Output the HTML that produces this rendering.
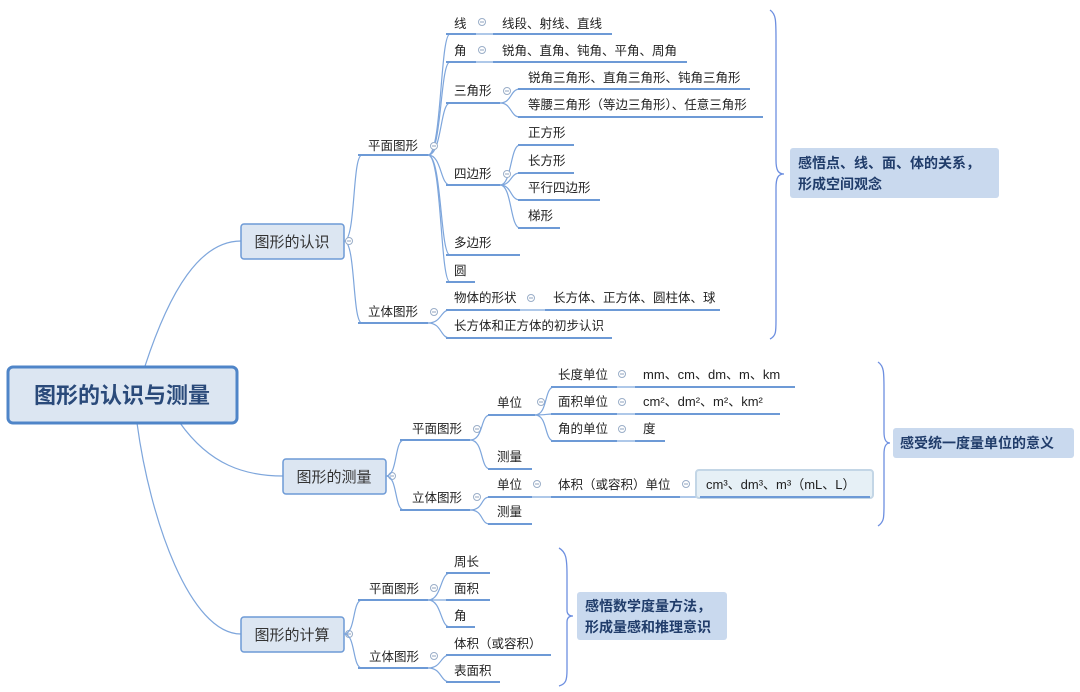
<!DOCTYPE html>
<html><head><meta charset="utf-8"><style>
html,body{margin:0;padding:0;background:#fff;}
svg{display:block;}
text{font-family:"Liberation Sans","Noto Sans CJK SC",sans-serif;font-size:12.5px;fill:#222;}
.u{stroke:#6d9ad6;stroke-width:2;fill:none;}
.c{stroke:#7ea6dc;stroke-width:1.2;fill:none;}
.o{fill:#fff;stroke:#9aaec8;stroke-width:1;}
.br{stroke:#6d8fe0;stroke-width:1.3;fill:none;}
.sum{font-size:14px;font-weight:bold;fill:#203c6a;}
</style></head><body>
<svg width="1080" height="692" viewBox="0 0 1080 692" xmlns="http://www.w3.org/2000/svg">
<defs>
<g id="m"><circle class="o" cx="0" cy="0" r="3.5"/><line x1="-2" y1="0" x2="2" y2="0" stroke="#8fa3bf" stroke-width="1"/></g>
</defs>
<path class="c" d="M145 366 C170 290 200 241 241 241"/>
<path class="c" d="M180 423 C210 465 245 476 283 476"/>
<path class="c" d="M137 423 C150 520 190 634 241 634"/>

<rect x="8" y="367" width="229" height="56" rx="5" fill="#dce6f2" stroke="#4f85c8" stroke-width="3"/>
<text x="122" y="403" text-anchor="middle" style="font-size:22px;font-weight:bold;fill:#2a4a7a">图形的认识与测量</text>

<rect x="241" y="224" width="103" height="35" rx="3" fill="#dce6f2" stroke="#6d9ad6" stroke-width="1.5"/>
<text x="292" y="247" text-anchor="middle" style="font-size:15px;fill:#333">图形的认识</text>
<rect x="283" y="459" width="103" height="35" rx="3" fill="#dce6f2" stroke="#6d9ad6" stroke-width="1.5"/>
<text x="334" y="482" text-anchor="middle" style="font-size:15px;fill:#333">图形的测量</text>
<rect x="241" y="617" width="103" height="35" rx="3" fill="#dce6f2" stroke="#6d9ad6" stroke-width="1.5"/>
<text x="292" y="640" text-anchor="middle" style="font-size:15px;fill:#333">图形的计算</text>

<!-- group 1 -->
<path class="c" d="M344 241 C356 241 352 155 362 155"/>
<path class="c" d="M344 241 C356 241 352 323 362 323"/>
<line class="u" x1="358" y1="155" x2="428" y2="155"/><text x="368" y="150">平面图形</text>
<line class="u" x1="358" y1="323" x2="428" y2="323"/><text x="368" y="316">立体图形</text>

<g class="c">
<path d="M428 155 C442 155 440 34 450 34"/>
<path d="M428 155 C442 155 440 62 450 62"/>
<path d="M428 155 C442 155 440 103 450 103"/>
<path d="M428 155 C442 155 440 185 450 185"/>
<path d="M428 155 C442 155 440 255 450 255"/>
<path d="M428 155 C442 155 440 282 450 282"/>
<path d="M428 323 C442 323 440 310 450 310"/>
<path d="M428 323 C442 323 440 338 450 338"/>
<path d="M500 103 C512 103 510 89 520 89"/>
<path d="M500 103 C512 103 510 117 520 117"/>
<path d="M500 185 C512 185 510 145 520 145"/>
<path d="M500 185 C512 185 510 173 520 173"/>
<path d="M500 185 C512 185 510 200 520 200"/>
<path d="M500 185 C512 185 510 228 520 228"/>
<line x1="476" y1="34" x2="493" y2="34"/>
<line x1="476" y1="62" x2="493" y2="62"/>
<line x1="520" y1="310" x2="545" y2="310"/>
</g>
<g class="u">
<line x1="446" y1="34" x2="476" y2="34"/><line x1="493" y1="34" x2="612" y2="34"/>
<line x1="446" y1="62" x2="476" y2="62"/><line x1="493" y1="62" x2="687" y2="62"/>
<line x1="446" y1="103" x2="500" y2="103"/>
<line x1="518" y1="89" x2="750" y2="89"/><line x1="518" y1="117" x2="763" y2="117"/>
<line x1="446" y1="185" x2="500" y2="185"/>
<line x1="518" y1="145" x2="574" y2="145"/><line x1="518" y1="173" x2="574" y2="173"/>
<line x1="518" y1="200" x2="600" y2="200"/><line x1="518" y1="228" x2="560" y2="228"/>
<line x1="446" y1="255" x2="520" y2="255"/>
<line x1="446" y1="282" x2="475" y2="282"/>
<line x1="446" y1="310" x2="520" y2="310"/><line x1="545" y1="310" x2="720" y2="310"/>
<line x1="446" y1="338" x2="612" y2="338"/>
</g>
<text x="454" y="28">线</text><text x="502" y="28">线段、射线、直线</text>
<text x="454" y="55">角</text><text x="502" y="55">锐角、直角、钝角、平角、周角</text>
<text x="454" y="95">三角形</text>
<text x="528" y="82">锐角三角形、直角三角形、钝角三角形</text>
<text x="528" y="109">等腰三角形（等边三角形）、任意三角形</text>
<text x="454" y="178">四边形</text>
<text x="528" y="137">正方形</text><text x="528" y="165">长方形</text>
<text x="528" y="192">平行四边形</text><text x="528" y="220">梯形</text>
<text x="454" y="247">多边形</text>
<text x="454" y="275">圆</text>
<text x="454" y="302">物体的形状</text><text x="553" y="302">长方体、正方体、圆柱体、球</text>
<text x="454" y="330">长方体和正方体的初步认识</text>

<use href="#m" x="349" y="241"/><use href="#m" x="434" y="146"/>
<use href="#m" x="434" y="312"/><use href="#m" x="482" y="22"/>
<use href="#m" x="482" y="50"/><use href="#m" x="507" y="91"/>
<use href="#m" x="507" y="174"/><use href="#m" x="531" y="298"/>
<use href="#m" x="392" y="476"/><use href="#m" x="477" y="429"/>
<use href="#m" x="477" y="497"/><use href="#m" x="541" y="402"/>
<use href="#m" x="622" y="374"/><use href="#m" x="622" y="402"/>
<use href="#m" x="622" y="429"/><use href="#m" x="537" y="484"/>
<use href="#m" x="686" y="484"/>
<use href="#m" x="349" y="634"/><use href="#m" x="434" y="588"/>
<use href="#m" x="434" y="656"/>

<path class="br" d="M770 10 C776 14 776 20 776 40 L776 160 C776 170 778 174 784 174 C778 174 776 178 776 188 L776 320 C776 332 776 336 770 339"/>
<rect x="790" y="148" width="209" height="50" rx="3" fill="#c9d9ee"/>
<text class="sum" x="798" y="168">感悟点、线、面、体的关系，</text>
<text class="sum" x="798" y="189">形成空间观念</text>

<!-- group 2 -->
<g class="c">
<path d="M386 476 C398 476 394 440 404 440"/>
<path d="M386 476 C398 476 394 510 404 510"/>
<path d="M470 440 C484 440 480 415 490 415"/>
<path d="M470 440 C484 440 480 469 490 469"/>
<path d="M470 510 C484 510 480 497 490 497"/>
<path d="M470 510 C484 510 480 524 490 524"/>
<path d="M535 415 C548 415 544 387 554 387"/>
<path d="M535 415 C548 415 544 414 554 414"/>
<path d="M535 415 C548 415 544 441 554 441"/>
<line x1="617" y1="387" x2="635" y2="387"/><line x1="617" y1="414" x2="635" y2="414"/>
<line x1="617" y1="441" x2="635" y2="441"/><line x1="532" y1="497" x2="551" y2="497"/>
<line x1="680" y1="497" x2="700" y2="497"/>
</g>
<g class="u">
<line x1="400" y1="440" x2="470" y2="440"/><line x1="400" y1="510" x2="470" y2="510"/>
<line x1="488" y1="415" x2="535" y2="415"/><line x1="488" y1="469" x2="532" y2="469"/>
<line x1="551" y1="387" x2="617" y2="387"/><line x1="635" y1="387" x2="795" y2="387"/>
<line x1="551" y1="414" x2="617" y2="414"/><line x1="635" y1="414" x2="780" y2="414"/>
<line x1="551" y1="441" x2="617" y2="441"/><line x1="635" y1="441" x2="665" y2="441"/>
<line x1="488" y1="497" x2="532" y2="497"/><line x1="551" y1="497" x2="680" y2="497"/>
<line x1="488" y1="524" x2="532" y2="524"/>
</g>
<text x="412" y="433">平面图形</text><text x="412" y="502">立体图形</text>
<text x="497" y="407">单位</text><text x="497" y="461">测量</text>
<text x="558" y="379">长度单位</text><text x="643" y="379" style="font-size:13px">mm、cm、dm、m、km</text>
<text x="558" y="406">面积单位</text><text x="643" y="406" style="font-size:13px">cm²、dm²、m²、km²</text>
<text x="558" y="433">角的单位</text><text x="643" y="433">度</text>
<text x="497" y="489">单位</text><text x="558" y="489">体积（或容积）单位</text>
<text x="497" y="516">测量</text>
<rect x="696" y="470" width="177" height="28" rx="3" fill="#e6f0f6" stroke="#c3d6e6" stroke-width="2"/>
<line class="u" x1="700" y1="497" x2="870" y2="497"/>
<text x="706" y="489" style="font-size:13px">cm³、dm³、m³（mL、L）</text>

<path class="br" d="M878 362 C884 366 884 372 884 390 L884 432 C884 440 886 443 890 443 C886 443 884 446 884 454 L884 505 C884 518 884 522 878 526"/>
<rect x="893" y="428" width="181" height="30" rx="3" fill="#c9d9ee"/>
<text class="sum" x="900" y="448">感受统一度量单位的意义</text>

<!-- group 3 -->
<g class="c">
<path d="M344 634 C356 634 352 600 362 600"/>
<path d="M344 634 C356 634 352 668 362 668"/>
<path d="M428 600 C442 600 440 573 450 573"/>
<path d="M428 600 C442 600 440 600 450 600"/>
<path d="M428 600 C442 600 440 627 450 627"/>
<path d="M428 668 C442 668 440 655 450 655"/>
<path d="M428 668 C442 668 440 682 450 682"/>
</g>
<g class="u">
<line x1="358" y1="600" x2="428" y2="600"/><line x1="358" y1="668" x2="428" y2="668"/>
<line x1="446" y1="573" x2="490" y2="573"/><line x1="446" y1="600" x2="490" y2="600"/>
<line x1="446" y1="627" x2="475" y2="627"/>
<line x1="446" y1="655" x2="551" y2="655"/><line x1="446" y1="682" x2="500" y2="682"/>
</g>
<text x="369" y="593">平面图形</text><text x="369" y="661">立体图形</text>
<text x="454" y="566">周长</text><text x="454" y="593">面积</text><text x="454" y="620">角</text>
<text x="454" y="648">体积（或容积）</text><text x="454" y="675">表面积</text>

<path class="br" d="M559 548 C566 552 567 558 567 575 L567 610 C567 614 569 616 573 616 C569 616 567 618 567 622 L567 670 C567 680 566 684 559 686"/>
<rect x="577" y="592" width="150" height="48" rx="3" fill="#c9d9ee"/>
<text class="sum" x="585" y="611">感悟数学度量方法，</text>
<text class="sum" x="585" y="632">形成量感和推理意识</text>
</svg>
</body></html>
